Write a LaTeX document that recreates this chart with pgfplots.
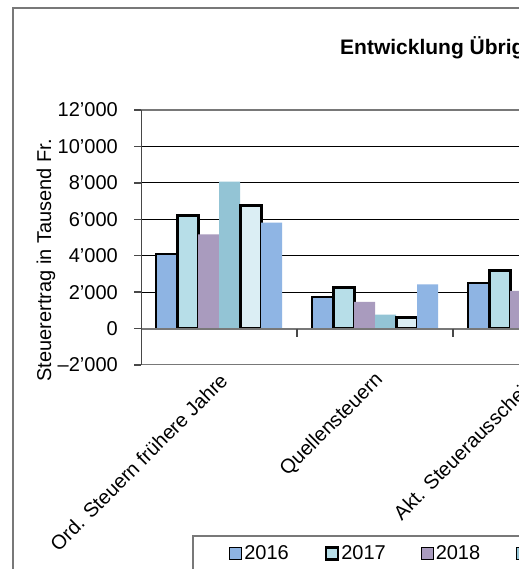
\documentclass[border=0pt]{standalone}
\usepackage{pgfplots}
\pgfplotsset{compat=1.18}
\usepackage{fontspec}
\setmainfont{Liberation Sans}
\definecolor{cA}{RGB}{142,180,227}
\definecolor{cB}{RGB}{183,222,232}
\definecolor{cC}{RGB}{169,155,190}
\definecolor{cD}{RGB}{147,196,213}
\definecolor{cE}{RGB}{219,238,244}
\definecolor{cF}{RGB}{143,181,228}
\definecolor{frame}{RGB}{120,120,120}
\begin{document}
\begin{tikzpicture}[x=1bp,y=1bp]
\useasboundingbox (0,0) rectangle (519,569);
\clip (0,0) rectangle (519,569);
\fill[white] (0,0) rectangle (519,569);
\draw[frame, line width=2bp] (12.5,-50) -- (12.5,560.5) -- (700,560.5);
\node[anchor=base west, inner sep=0pt, font=\bfseries\fontsize{21bp}{25bp}\selectfont] at (340,514) {Entwicklung Übrige Steuern};
\begin{axis}[
  at={(141bp,204bp)}, anchor=south west,
  width=780bp, height=255bp, scale only axis,
  font=\fontsize{20bp}{24bp}\selectfont,
  ybar=0pt, bar width=21bp,
  xmin=-0.5, xmax=4.5, ymin=-2000, ymax=12000,
  scaled y ticks=false,
  axis line style={draw=none},
  xtick={0,1,2},
  xticklabels={\mbox{Ord. Steuern frühere Jahre}, \mbox{Quellensteuern}, \mbox{Akt. Steuerausscheid.}},
  xtick style={draw=none},
  xticklabel style={rotate=45, anchor=east, inner sep=2bp, yshift=-7bp, xshift=2bp},
  ytick={-2000,0,2000,4000,6000,8000,10000,12000},
  yticklabels={\mbox{\textendash2'000},\mbox{0},\mbox{2'000},\mbox{4'000},\mbox{6'000},\mbox{8'000},\mbox{10'000},\mbox{12'000}},
  ytick style={draw=frame!60!black, line width=1.5bp},
  major tick length=7bp, tick align=outside,
  yticklabel style={anchor=east, inner sep=0pt, xshift=-16bp},
  ymajorgrids, major grid style={black, line width=1bp},
  ylabel={Steuerertrag in Tausend Fr.},
  every axis y label/.style={at={(axis description cs:-0.1218,0.41)}, anchor=center, rotate=90},
  legend columns=6,
  legend style={at={(axis description cs:0.0654,-0.6667)}, anchor=north west,
    draw=frame, line width=1.5bp, inner xsep=36bp, inner ysep=8bp,
    font=\fontsize{20bp}{24bp}\selectfont,
    nodes={inner sep=2bp},
    /tikz/every even column/.append style={column sep=34bp}},
  mybar/.style={legend image code/.code={\draw[##1, line width=\pgfkeysvalueof{/pgfplots/lw}] (0bp,-6bp) rectangle (12bp,6bp);}},
  lw/.initial=1.5bp,
]
\addplot[fill=cA, draw=black, line width=2bp, mybar, lw=1.5bp] coordinates {(0,4070) (1,1730) (2,2510)};
\addplot[fill=cB, draw=black, line width=3bp, mybar, lw=2.5bp] coordinates {(0,6200) (1,2250) (2,3210)};
\addplot[fill=cC, draw=none, mybar, lw=0bp] coordinates {(0,5170) (1,1470) (2,2070)};
\addplot[fill=cD, draw=none, mybar, lw=0bp] coordinates {(0,8070) (1,760)};
\addplot[fill=cE, draw=black, line width=3bp, mybar, lw=2.5bp] coordinates {(0,6780) (1,630)};
\addplot[fill=cF, draw=none, mybar, lw=0bp] coordinates {(0,5820) (1,2420)};
\legend{2016,2017,2018,2019,2020,2021}
\draw[frame, line width=2bp] (axis cs:-0.5,12000) -- (axis cs:4.5,12000);
\draw[frame, line width=2bp] (axis cs:-0.5,-2000) -- (axis cs:4.5,-2000);
\draw[frame, line width=2bp] (axis cs:-0.5,0) -- (axis cs:4.5,0);
\draw[frame!60!black, line width=2bp] (axis cs:-0.5,-2000) -- (axis cs:-0.5,12000);
\draw[frame!60!black, line width=1.5bp] (axis cs:0.5,0) -- (axis cs:0.5,-440);
\draw[frame!60!black, line width=1.5bp] (axis cs:1.5,0) -- (axis cs:1.5,-440);
\draw[frame!60!black, line width=1.5bp] (axis cs:2.5,0) -- (axis cs:2.5,-440);
\draw[frame!60!black, line width=1.5bp] (axis cs:3.5,0) -- (axis cs:3.5,-440);
\end{axis}
\end{tikzpicture}
\end{document}
